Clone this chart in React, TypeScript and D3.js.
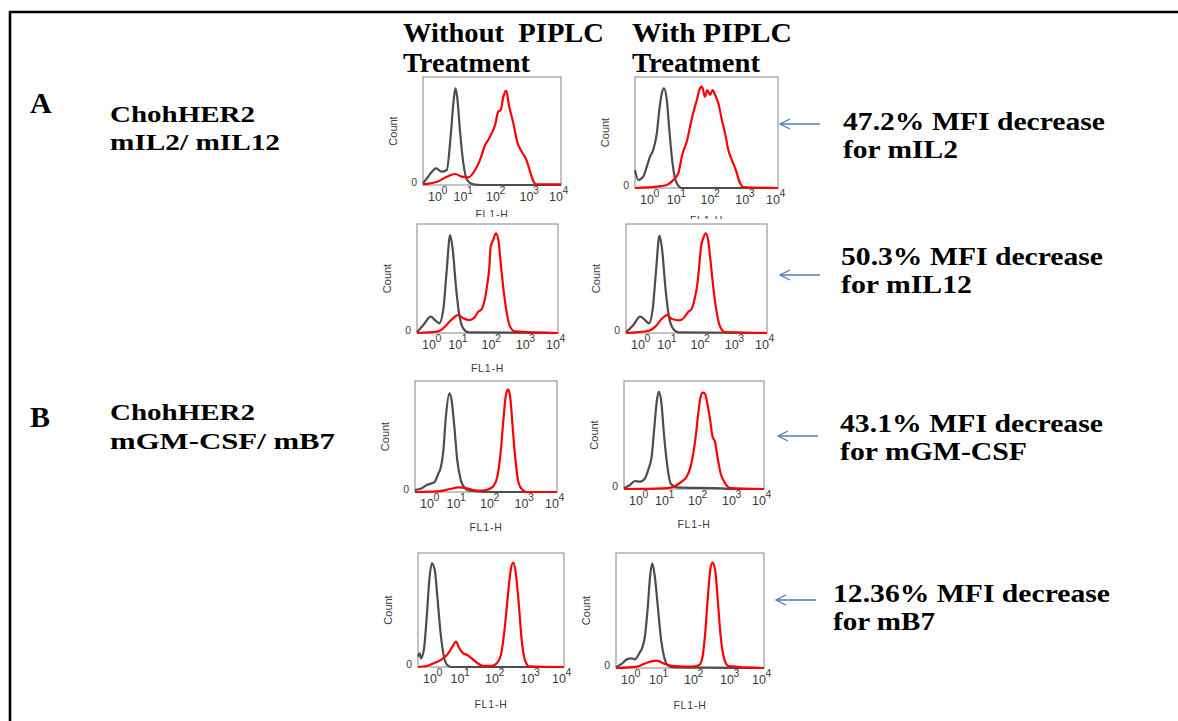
import React from 'react';
import * as d3 from 'd3';

type Pt = [number, number];

// x in log10 decades (FL1-H), y in % of max count
const decades = [0, 1, 2, 3, 4];
const tickBase = '10';

const p1Gray: Pt[] = [[0,1.5],[0.15,7.7],[0.38,15.4],[0.54,12.3],[0.69,13.9],[0.80,44.7],[0.88,75.6],[0.94,89.5],[0.99,81.8],[1.07,50.9],[1.17,20],[1.28,4.6],[1.46,0.6],[1.7,0],[4,0]];
const p1Red: Pt[] = [[0,0.6],[0.41,3],[0.69,7.7],[0.93,10.2],[1.12,7.7],[1.31,7],[1.51,13.9],[1.65,23],[1.80,37],[1.89,41.7],[1.99,47.8],[2.09,55.6],[2.18,67.9],[2.25,69.4],[2.33,81.8],[2.41,87.3],[2.50,72.5],[2.62,57],[2.73,40],[2.86,30.9],[3.0,23],[3.12,10.8],[3.22,2.2],[3.3,0.5],[4,0.5]];

const p2Gray: Pt[] = [[0,16],[0.09,7.2],[0.23,10.2],[0.33,19.2],[0.42,28.2],[0.51,34.2],[0.61,49.2],[0.68,70.3],[0.75,85.3],[0.81,89.8],[0.89,79.3],[0.96,52.3],[1.05,22.2],[1.15,5.7],[1.31,0],[4,0]];
const p2Red: Pt[] = [[0,0],[0.61,1.2],[0.89,2.7],[1.07,7.2],[1.21,13.2],[1.32,29.7],[1.46,43.2],[1.56,58.3],[1.65,70.3],[1.73,79.3],[1.80,88.3],[1.87,91.3],[1.96,82.3],[2.02,88.3],[2.10,83.8],[2.17,88.3],[2.24,83.8],[2.33,76.3],[2.43,61.3],[2.52,49.2],[2.61,34.2],[2.71,25.2],[2.82,16.2],[2.94,4.2],[3.03,0.9],[4,0]];

const p3Gray: Pt[] = [[0,0.6],[0.18,7.3],[0.39,15],[0.51,11.9],[0.63,8.9],[0.75,22.6],[0.84,56.3],[0.94,89.9],[1.01,77.7],[1.11,41],[1.20,16.5],[1.31,4.3],[1.46,0.6],[4,0]];
const p3Red: Pt[] = [[0,0],[0.60,1.5],[0.79,5.8],[0.94,11],[1.08,15],[1.17,16.5],[1.31,13.5],[1.50,11.9],[1.65,15],[1.74,19.6],[1.83,21.7],[1.93,31.8],[1.99,44],[2.05,59.3],[2.09,79.2],[2.16,85.3],[2.24,91.4],[2.31,85.3],[2.37,65.4],[2.45,41],[2.54,19.6],[2.64,5.8],[2.78,1.5],[4,0]];

const p4Gray: Pt[] = [[0,0.6],[0.21,7.3],[0.40,15],[0.54,11.9],[0.65,8.9],[0.76,22.6],[0.85,56.3],[0.95,89.3],[1.02,77.7],[1.12,41],[1.21,16.5],[1.34,3.7],[1.48,0.6],[4,0]];
const p4Red: Pt[] = [[0,0],[0.65,2.1],[0.83,5.8],[1.01,12.8],[1.17,16.5],[1.30,12.8],[1.53,11.6],[1.67,15],[1.77,19.6],[1.86,22],[1.96,33.3],[2.02,44],[2.08,62.4],[2.13,79.2],[2.19,86.8],[2.26,91.4],[2.33,85.3],[2.40,65.4],[2.48,41],[2.57,19.6],[2.67,5.8],[2.81,0.9],[4,0]];

const p5Gray: Pt[] = [[0,1.8],[0.19,3.3],[0.33,6.3],[0.47,7.8],[0.56,9.3],[0.66,16.8],[0.72,21.3],[0.80,37.8],[0.87,67.9],[0.97,88.9],[1.03,82.9],[1.10,61.9],[1.19,28.8],[1.29,10.8],[1.41,3.3],[1.55,1.2],[2.2,0],[4,0]];
const p5Red: Pt[] = [[0,0],[0.61,0.5],[0.99,2.7],[1.22,4.2],[1.46,3.3],[1.64,1.8],[1.88,1.2],[2.07,2.4],[2.21,5.4],[2.32,13.8],[2.41,34.8],[2.49,64.9],[2.56,87.4],[2.62,92.5],[2.68,85.9],[2.75,58.8],[2.83,28.8],[2.91,9.3],[3.01,2.4],[3.15,0],[4,0]];

const p6Gray: Pt[] = [[0,0.6],[0.17,3.7],[0.31,7.4],[0.46,6.8],[0.60,9.9],[0.69,17.6],[0.79,29.9],[0.86,54.6],[0.93,79.3],[0.99,90.1],[1.07,79.3],[1.14,51.5],[1.24,20.7],[1.33,5.2],[1.51,1.5],[2.8,0.6],[3,0],[4,0]];
const p6Red: Pt[] = [[0,0],[1.12,0.6],[1.36,1.5],[1.51,3.7],[1.65,6.8],[1.79,11.4],[1.89,19.1],[1.98,33],[2.06,51.5],[2.12,70],[2.19,85.5],[2.25,89.2],[2.31,88.3],[2.38,79.3],[2.46,63.9],[2.53,48.5],[2.60,43.8],[2.67,29.9],[2.76,14.5],[2.89,5.2],[3.03,0.9],[4,0]];

const p7Gray: Pt[] = [[0,9.1],[0.05,12],[0.08,7.6],[0.16,14.9],[0.24,44.2],[0.31,76.3],[0.38,90.9],[0.46,85.1],[0.53,61.7],[0.62,29.5],[0.71,9.1],[0.80,1.8],[0.92,0],[4,0]];
const p7Red: Pt[] = [[0,0],[0.24,0.9],[0.47,3.8],[0.69,7.6],[0.83,12],[0.95,18.4],[1.04,22.2],[1.13,16.4],[1.24,12],[1.35,10.5],[1.47,7.6],[1.61,3.8],[1.79,0.9],[2.02,0.9],[2.16,3.2],[2.27,10.5],[2.36,29.5],[2.46,61.7],[2.54,85.1],[2.61,91.5],[2.68,82.2],[2.76,55.8],[2.84,23.7],[2.93,6.1],[3.05,0.6],[4,0]];

const p8Gray: Pt[] = [[0,0.6],[0.15,3.5],[0.29,7.5],[0.42,8.4],[0.51,7.5],[0.63,12.8],[0.72,18.6],[0.78,27.2],[0.86,53.3],[0.92,79.4],[0.98,91],[1.05,79.4],[1.13,53.3],[1.22,24.3],[1.30,9.8],[1.39,2.6],[1.55,0.6],[4,0]];
const p8Red: Pt[] = [[0,0],[0.56,1.2],[0.83,4.6],[1.10,6.4],[1.32,3.5],[1.59,1.7],[2.09,1.2],[2.25,2.6],[2.34,9.8],[2.41,30.1],[2.49,64.9],[2.56,88.1],[2.61,91.6],[2.68,85.2],[2.75,59.1],[2.83,27.2],[2.92,8.4],[3.04,1.7],[4,0]];

const headers = [['Without  PIPLC', 'Treatment'], ['With PIPLC', 'Treatment']];
const groupLetters = ['A', 'B'];
const groupLines = [['ChohHER2', 'mIL2/ mIL12'], ['ChohHER2', 'mGM-CSF/ mB7']];
const mfiLines = [
  ['47.2% MFI decrease', 'for mIL2'],
  ['50.3% MFI decrease', 'for mIL12'],
  ['43.1% MFI decrease', 'for mGM-CSF'],
  ['12.36% MFI decrease', 'for mB7'],
];

// ---- layout (styling only) ----
const panels = [
  { id: 'p1', gray: p1Gray, red: p1Red, box: { x: 423, y: 77, w: 138, h: 108 }, fl: 33, clipB: 217 },
  { id: 'p2', gray: p2Gray, red: p2Red, box: { x: 635, y: 77, w: 143, h: 111 }, fl: 36, clipB: 219 },
  { id: 'p3', gray: p3Gray, red: p3Red, box: { x: 417, y: 224, w: 141, h: 109 }, fl: 39, clipB: 380 },
  { id: 'p4', gray: p4Gray, red: p4Red, box: { x: 626, y: 224, w: 141, h: 109 }, fl: 0, clipB: 360 },
  { id: 'p5', gray: p5Gray, red: p5Red, box: { x: 415, y: 381, w: 142, h: 111 }, fl: 39, clipB: 540 },
  { id: 'p6', gray: p6Gray, red: p6Red, box: { x: 624, y: 381, w: 140, h: 108 }, fl: 39, clipB: 540 },
  { id: 'p7', gray: p7Gray, red: p7Red, box: { x: 418, y: 553, w: 146, h: 114 }, fl: 41, clipB: 721 },
  { id: 'p8', gray: p8Gray, red: p8Red, box: { x: 616, y: 553, w: 148, h: 115 }, fl: 41, clipB: 709 },
];
const labelShift = [12, 3, 1, 0, -5];
const headerPos = [
  { x: 403, w1: 201, w2: 127 },
  { x: 632, w1: 160, w2: 128 },
];
const groupPos = [
  { y: 113, y1: 122, y2: 150, w1: 145, w2: 170 },
  { y: 427, y1: 420, y2: 449, w1: 145, w2: 225 },
];
const mfiPos = [
  { x: 843, y: 130, w1: 262, w2: 115, ax: 780, ay: 124 },
  { x: 841, y: 265, w1: 262, w2: 131, ax: 780, ay: 275 },
  { x: 840, y: 432, w1: 263, w2: 187, ax: 778, ay: 436 },
  { x: 833, y: 602, w1: 277, w2: 102, ax: 776, ay: 600 },
];

const serif = '"Liberation Serif", "Times New Roman", serif';
const sans = '"Liberation Sans", Arial, Helvetica, sans-serif';
const axisColor = '#3a3a3a';

function Panel({ p }: { p: typeof panels[number] }) {
  const { x, y, w, h } = p.box;
  const xs = d3.scaleLog().domain([1, 1e4]).range([x, x + w]);
  const ys = d3.scaleLinear().domain([0, 100]).range([y + h, y]);
  const line = d3
    .line<Pt>()
    .x((d) => xs(Math.pow(10, d[0])))
    .y((d) => ys(d[1]))
    .curve(d3.curveMonotoneX);
  const bottom = ys(0);
  return (
    <g clipPath={`url(#clip-${p.id})`}>
      <defs>
        <clipPath id={`clip-${p.id}`}>
          <rect x={x - 60} y={y - 8} width={w + 80} height={p.clipB - (y - 8)} />
        </clipPath>
      </defs>
      <rect x={x} y={y} width={w} height={h} fill="none" stroke="#9a9a9a" strokeWidth={1.2} />
      <path d={line(p.gray) || ''} fill="none" stroke="#4d4d4d" strokeWidth={2.2} strokeLinejoin="round" />
      <path d={line(p.red) || ''} fill="none" stroke="#ff0000" strokeWidth={2.2} strokeLinejoin="round" />
      <text x={x - 6} y={bottom + 1} textAnchor="end" fontFamily={sans} fontSize={10.5} fill={axisColor}>0</text>
      <text
        transform={`translate(${x - 26},${y + h / 2}) rotate(-90)`}
        textAnchor="middle"
        fontFamily={sans}
        fontSize={11}
        fill={axisColor}
      >
        Count
      </text>
      {decades.map((k, i) => {
        const cx = xs(Math.pow(10, k)) + labelShift[i];
        return (
          <g key={k} fontFamily={sans} fill={axisColor}>
            <text x={cx} y={bottom + 16} textAnchor="middle" fontSize={12.5}>{tickBase}</text>
            <text x={cx + 6.5} y={bottom + 8.5} textAnchor="start" fontSize={10.5}>{String(k)}</text>
          </g>
        );
      })}
      {p.fl > 0 && (
        <text x={x + w / 2} y={bottom + p.fl} textAnchor="middle" fontFamily={sans} fontSize={10.5} letterSpacing={0.8} fill={axisColor}>
          FL1-H
        </text>
      )}
    </g>
  );
}

function Arrow({ x, y }: { x: number; y: number }) {
  const len = 40;
  return (
    <g stroke="#4a7ebb" strokeWidth={1.3} fill="none">
      <line x1={x} y1={y} x2={x + len} y2={y} />
      <polyline points={`${x + 10},${y - 5} ${x},${y} ${x + 10},${y + 5}`} />
    </g>
  );
}

export default function App() {
  return (
    <svg
      width={1178}
      height={721}
      style={{ position: 'absolute', left: 0, top: 0, display: 'block', background: '#fff' }}
    >
      <rect x={0} y={0} width={1178} height={721} fill="#fff" />
      <line x1={9} y1={12} x2={1178} y2={12} stroke="#000" strokeWidth={2.6} />
      <line x1={10} y1={11} x2={10} y2={721} stroke="#000" strokeWidth={2.6} />

      {headers.map((hd, i) => (
        <g key={i} fontFamily={serif} fontWeight="bold" fontSize={27} fill="#000">
          <text x={headerPos[i].x} y={42} textLength={headerPos[i].w1} lengthAdjust="spacingAndGlyphs" style={{ whiteSpace: 'pre' }}>{hd[0]}</text>
          <text x={headerPos[i].x} y={72} textLength={headerPos[i].w2} lengthAdjust="spacingAndGlyphs">{hd[1]}</text>
        </g>
      ))}

      {groupLetters.map((g, i) => (
        <g key={g} fontFamily={serif} fontWeight="bold" fill="#000">
          <text x={30} y={groupPos[i].y} fontSize={30}>{g}</text>
          <text x={110} y={groupPos[i].y1} fontSize={24} textLength={groupPos[i].w1} lengthAdjust="spacingAndGlyphs">{groupLines[i][0]}</text>
          <text x={110} y={groupPos[i].y2} fontSize={24} textLength={groupPos[i].w2} lengthAdjust="spacingAndGlyphs">{groupLines[i][1]}</text>
        </g>
      ))}

      {panels.map((p) => (
        <Panel key={p.id} p={p} />
      ))}

      {mfiLines.map((m, i) => (
        <g key={i}>
          <Arrow x={mfiPos[i].ax} y={mfiPos[i].ay} />
          <g fontFamily={serif} fontWeight="bold" fontSize={26} fill="#000">
            <text x={mfiPos[i].x} y={mfiPos[i].y} textLength={mfiPos[i].w1} lengthAdjust="spacingAndGlyphs">{m[0]}</text>
            <text x={mfiPos[i].x} y={mfiPos[i].y + 28} textLength={mfiPos[i].w2} lengthAdjust="spacingAndGlyphs">{m[1]}</text>
          </g>
        </g>
      ))}
    </svg>
  );
}
